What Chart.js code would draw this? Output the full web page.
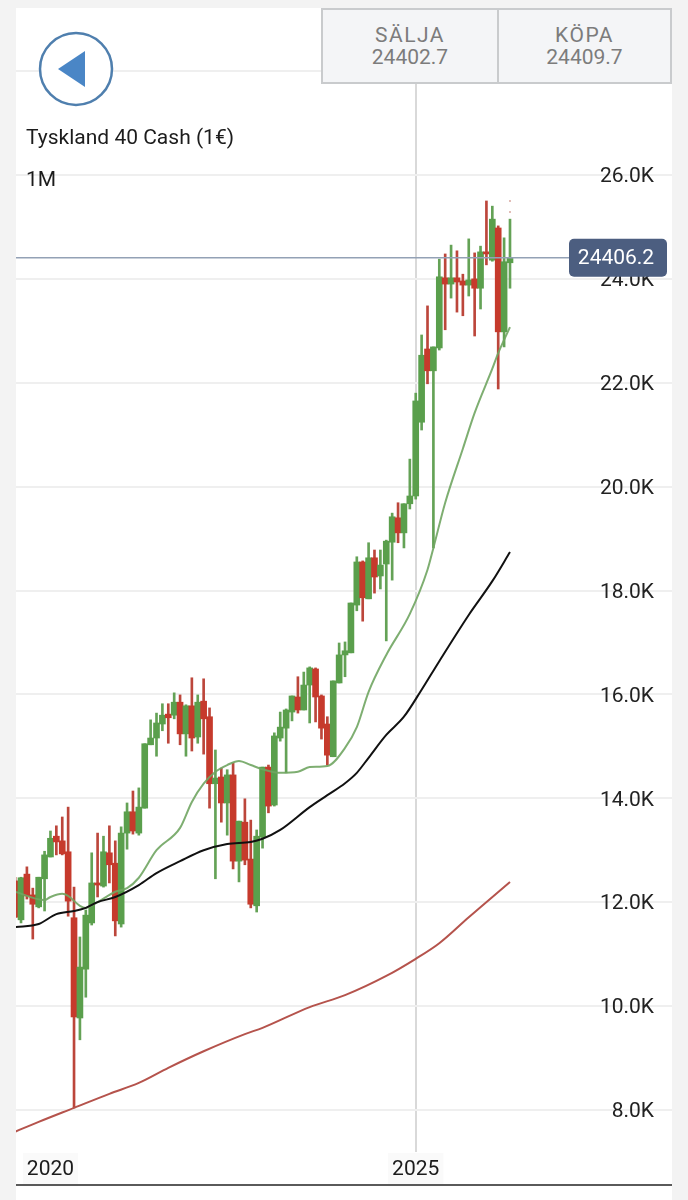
<!DOCTYPE html>
<html>
<head>
<meta charset="utf-8">
<title>Tyskland 40 Cash (1€)</title>
<script src="https://cdn.jsdelivr.net/npm/chart.js@4/dist/chart.umd.min.js"></script>
<style>
    html, body { margin: 0; padding: 0; background: #f3f3f3; }
    body { width: 688px; height: 1200px; position: relative; overflow: hidden; font-family: Roboto, sans-serif; }
    #panel { position: absolute; left: 16px; top: 8px; width: 656px; height: 1192px; background: #fff; }
    #chart { position: absolute; left: 0; top: 0; }
    #baseline { position: absolute; left: 16px; top: 1184px; width: 656px; height: 2px; background: #5a5a5a; }
    .quote { position: absolute; top: 8px; height: 76px; box-sizing: border-box; background: #f4f5f7; border: 2px solid #c9cbcd; text-align: center; color: #7c7c7c; font-size: 21px; line-height: 22px; }
    .quote span { display: block; }
    .quote .side { margin-top: 14px; letter-spacing: 1.5px; }
    #sell { left: 321px; width: 178px; }
    #buy { left: 497px; width: 175px; }
    #back { position: absolute; left: 38px; top: 31px; }
    .label { position: absolute; left: 26px; color: #1c1c1c; font-size: 21px; line-height: 24px; }
</style>
</head>
<body>
<div id="panel"></div>
<canvas id="chart" width="688" height="1200"></canvas>
<div id="baseline"></div>
<svg id="back" width="76" height="76">
    <circle cx="38" cy="38" r="36" fill="#fff" stroke="#4f7fae" stroke-width="2.5"/>
    <polygon points="20,38 47,20 47,56" fill="#4a86c6"/>
</svg>
<div class="label" style="top:125px">Tyskland 40 Cash (1€)</div>
<div class="label" style="top:167px">1M</div>
<div class="quote" id="sell"><span class="side">SÄLJA</span><span>24402.7</span></div>
<div class="quote" id="buy"><span class="side">KÖPA</span><span>24409.7</span></div>

<script>
// monthly candles, May 2019 to May 2026
const opens = [12410,11660,12540,12140,11910,12450,12870,13270,13180,12970,11700,9770,10710,11600,12370,12310,12950,12750,11580,13330,13740,13330,13810,15030,15160,15430,15620,15600,15850,15240,15780,15180,15870,15570,14280,14410,13910,14450,12790,13540,12830,11930,13250,14600,13870,15160,15350,15660,15950,15700,16180,16490,15970,15430,14800,16220,16760,16800,17720,18550,17840,18630,18280,18510,18930,19400,19110,19670,19820,21240,22650,22230,22670,24020,23900,24020,23960,23880,24000,23820,24520,24360,24980,22980,24310];
const highs = [12480,12480,12680,12270,12480,12980,13370,13470,13640,13830,12290,11330,11850,12950,13330,13270,13470,13180,13450,13910,14140,14200,15050,15510,15640,15820,15820,16030,15990,15800,16320,15990,16300,15740,14930,14580,14550,14680,13560,13990,13580,13390,14600,14640,15260,15660,15720,15970,16340,16430,16530,16510,15990,15570,16260,16990,17010,17760,18650,18570,18920,18780,18780,18970,19490,19690,19670,20530,21800,22920,23480,22690,24380,24480,24650,24540,24090,24770,24500,24630,25500,25400,25020,24790,25150];
const lows = [11700,11600,12060,11290,11890,11830,12870,12910,12910,11730,8040,9350,10170,11560,12100,12290,12370,11350,11520,13020,13310,13290,13810,15030,14810,15300,15060,15530,15030,14810,14910,15060,14850,13810,12450,13540,13290,12640,12390,12720,11890,11810,13040,13720,13850,15100,14490,15490,15640,15700,15450,15470,15140,14640,14800,16220,16340,16800,17610,17410,17840,17950,18030,17030,18200,18920,18820,19570,19760,21090,21980,18820,22630,23020,23630,23360,23290,23670,22900,23420,24270,24340,21880,22690,23820];
const closes = [11710,12470,12120,11960,12480,12910,13230,13160,12930,12020,9790,10750,11750,12370,12330,12970,12720,11640,13330,13740,13370,13830,15050,15160,15450,15600,15550,15850,15240,15780,15160,15850,15530,14280,14390,13910,14450,12790,13560,12810,11960,13270,14600,13850,15200,15370,15700,15970,15700,16180,16510,15950,15350,14830,16260,16760,16840,17760,18550,17860,18630,18260,18490,18950,19420,19110,19670,19820,21650,22530,22230,22690,24040,23900,24020,23940,23880,23980,23820,24520,24480,25150,22980,24330,24406];

// moving averages, read at the months listed
const fastMonths = [0,5,6,8,9,11,12,14,17,19,21,24,28,30,32,34,36,38,40,42,45,48,50,53,56,58,60,63,67,70,71,73,76,78,81,82,84];
const fastValues = [12200,12040,12100,12160,12120,11930,11890,12000,12200,12270,12470,13000,13430,13930,14280,14510,14640,14720,14640,14560,14490,14510,14600,14620,14970,15370,16050,16760,17550,18400,18820,19690,20730,21420,22270,22570,23070];
const midMonths = [0,4,7,10,12,14,17,21,24,28,32,36,40,42,45,50,53,56,58,60,63,66,69,72,77,81,84];
const midValues = [11520,11580,11770,11830,11890,12000,12100,12330,12560,12790,13000,13120,13160,13220,13390,13830,14060,14290,14490,14780,15220,15570,16090,16640,17530,18180,18740];
const slowMonths = [0,4,10,16,21,26,32,39,42,50,56,63,68,72,77,84];
const slowValues = [7580,7770,8040,8310,8520,8810,9130,9460,9580,9980,10210,10580,10910,11210,11710,12390];

const yearMonths = [6, 68];
const yearLabels = ['2020', '2025'];
const priceTicks = [8000,10000,12000,14000,16000,18000,20000,22000,24000,26000,28000];
const lastPrice = 24406.2;
const liveWick = [25520, 25150];

const upColor = '#5a9f4c';
const downColor = '#c63a2c';
const monthIdx = opens.map((_, i) => i);
const candleColors = monthIdx.map(i => closes[i] < opens[i] ? downColor : upColor);
const wickColors = monthIdx.map(i => closes[i] < opens[i] ? '#bc463b' : '#64a256');
const toPoints = (xs, ys) => xs.map((x, i) => ({ x, y: ys[i] }));

const priceTag = {
    id: 'priceTag',
    afterDraw(chart) {
        const { ctx, chartArea, scales } = chart;
        const y = scales.y.getPixelForValue(lastPrice);
        ctx.save();
        ctx.strokeStyle = '#93a1b5';
        ctx.lineWidth = 1.5;
        ctx.beginPath();
        ctx.moveTo(chartArea.left, y);
        ctx.lineTo(570, y);
        ctx.stroke();
        ctx.fillStyle = '#4c5e80';
        ctx.beginPath();
        ctx.roundRect(569, y - 19, 98, 38, 5);
        ctx.fill();
        ctx.fillStyle = '#fff';
        ctx.font = '21px Roboto';
        ctx.textAlign = 'center';
        ctx.textBaseline = 'middle';
        ctx.fillText(lastPrice.toFixed(1), 616, y + 1);
        ctx.restore();
    }
};

function lineSet(label, xs, ys, color) {
    return {
        type: 'line', label, data: toPoints(xs, ys), borderColor: color, borderWidth: 2,
        pointRadius: 0, cubicInterpolationMode: 'monotone', order: 1
    };
}

new Chart(document.getElementById('chart'), {
    data: {
        datasets: [
            {
                type: 'bar', label: 'wick', grouped: false, barThickness: 2, order: 4,
                data: monthIdx.map(i => ({ x: i, y: [lows[i], highs[i]] })),
                backgroundColor: wickColors
            },
            {
                type: 'bar', label: 'body', grouped: false, barThickness: 6, order: 3,
                data: monthIdx.map(i => ({ x: i, y: [opens[i], closes[i]] })),
                backgroundColor: candleColors
            },
            lineSet('slow', slowMonths, slowValues, '#b5534c'),
            lineSet('mid', midMonths, midValues, '#111111'),
            lineSet('fast', fastMonths, fastValues, 'rgba(112,165,98,0.9)'),
            {
                type: 'line', label: 'live', order: 2, pointRadius: 0, borderWidth: 1.5,
                borderColor: '#d8a8a0', borderDash: [2, 9],
                data: liveWick.map(v => ({ x: 84, y: v }))
            }
        ]
    },
    plugins: [priceTag],
    options: {
        responsive: false,
        animation: false,
        events: [],
        layout: { autoPadding: false, padding: { left: 16, right: 16, top: 8, bottom: 0 } },
        plugins: { legend: { display: false }, tooltip: { enabled: false } },
        scales: {
            x: {
                type: 'linear',
                bounds: 'data',
                min: 0.15,
                max: 111.5,
                offset: false,
                afterBuildTicks: s => { s.ticks = yearMonths.map(value => ({ value })); },
                afterFit: s => { s.height = 48; },
                border: { display: false },
                grid: {
                    offset: false,
                    drawTicks: false,
                    lineWidth: 2,
                    color: c => c.tick && c.tick.value === 68 ? '#d9d9d9' : 'rgba(0,0,0,0)'
                },
                ticks: {
                    autoSkip: false,
                    maxRotation: 0,
                    padding: 5,
                    color: '#1c1c1c',
                    font: { family: 'Roboto', size: 21 },
                    showLabelBackdrop: true,
                    backdropColor: '#fafafa',
                    backdropPadding: 4,
                    callback: v => yearLabels[yearMonths.indexOf(v)]
                }
            },
            y: {
                position: 'right',
                min: 7190,
                max: 29215,
                afterBuildTicks: s => { s.ticks = priceTicks.map(value => ({ value })); },
                afterFit: s => { s.width = 0; s.paddingTop = 0; s.paddingBottom = 0; },
                border: { display: false },
                grid: { color: '#efefef', lineWidth: 2, drawTicks: false },
                ticks: {
                    mirror: true,
                    padding: -18,
                    labelOffset: 2,
                    color: '#222',
                    font: { family: 'Roboto', size: 21 },
                    callback: v => (v / 1000).toFixed(1) + 'K'
                }
            }
        }
    }
});
</script>
</body>
</html>
